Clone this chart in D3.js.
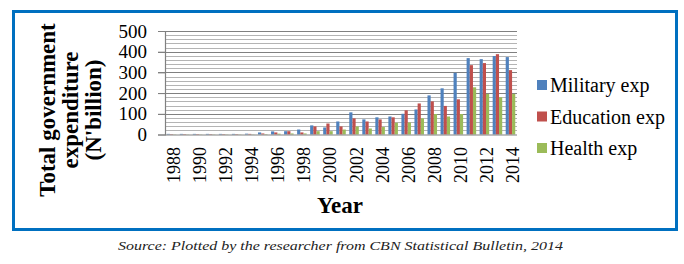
<!DOCTYPE html>
<html>
<head>
<meta charset="utf-8">
<script src="https://cdn.jsdelivr.net/npm/d3@7"></script>
<style>
  body { margin: 0; background: #fff; }
  svg text { font-family: "Liberation Serif", "Times New Roman", "DejaVu Serif", serif; }
</style>
</head>
<body>
<div id="chart"></div>
<script>
// Years and the three expenditure series (N'billion)
const years = d3.range(1988, 2015).map(String);
const military = [3, 3, 3, 3, 3, 3, 4, 10, 15, 16, 24, 44, 34, 63, 107, 73, 83, 87, 100, 121, 189, 223, 298, 369, 364, 379, 374];
const education = [2, 2, 2, 2, 2, 2, 3, 5, 10, 16, 10, 39, 53, 39, 78, 63, 73, 83, 117, 150, 160, 138, 170, 335, 345, 388, 311];
const health = [1, 1, 1, 1, 1, 1, 1, 2, 4, 5, 5, 16, 16, 24, 39, 29, 36, 57, 58, 78, 99, 87, 99, 228, 196, 180, 196];
const seriesNames = ["Military exp", "Education exp", "Health exp"];
const seriesColors = ["#4F81BD", "#C0504D", "#9BBB59"];
const yTicks = [0, 100, 200, 300, 400, 500];

const series = [military, education, health];
const serif = "'Liberation Serif', 'Times New Roman', 'DejaVu Serif', serif";

const outerWidth = 684;
const outerHeight = 264;

// plot area
const margin = { top: 31, left: 165, right: 167, bottom: 129.5 };
const width = outerWidth - margin.left - margin.right;
const height = outerHeight - margin.top - margin.bottom;

const svg = d3.select("#chart")
  .append("svg")
  .attr("width", outerWidth)
  .attr("height", outerHeight)
  .attr("font-family", serif);

// blue frame around the chart
svg.append("rect")
  .attr("x", 13.5)
  .attr("y", 11.5)
  .attr("width", 663)
  .attr("height", 218)
  .attr("fill", "none")
  .attr("stroke", "#0070C0")
  .attr("stroke-width", 3);

const g = svg.append("g")
  .attr("transform", `translate(${margin.left},${margin.top})`);

const x = d3.scaleBand()
  .domain(years)
  .range([0, width]);

const x1 = d3.scaleBand()
  .domain(d3.range(3))
  .range([0, x.bandwidth()])
  .paddingOuter(0.55)
  .paddingInner(0);

const y = d3.scaleLinear()
  .domain([0, 500])
  .range([height, 0]);

// minor grid every 20
g.append("g")
  .selectAll("line")
  .data(d3.range(20, 500, 20).filter(v => v % 100 !== 0))
  .join("line")
  .attr("x1", 0)
  .attr("x2", width)
  .attr("y1", d => Math.round(y(d)) + 0.5)
  .attr("y2", d => Math.round(y(d)) + 0.5)
  .attr("stroke", "#B4B4B4")
  .attr("stroke-width", 1);

// major grid every 100
g.append("g")
  .selectAll("line")
  .data(yTicks.slice(1))
  .join("line")
  .attr("x1", -7)
  .attr("x2", width)
  .attr("y1", d => Math.round(y(d)) + 0.5)
  .attr("y2", d => Math.round(y(d)) + 0.5)
  .attr("stroke", "#808080")
  .attr("stroke-width", 1.2);

// bars
series.forEach((vals, si) => {
  g.append("g")
    .selectAll("rect")
    .data(vals)
    .join("rect")
    .attr("x", (d, i) => x(years[i]) + x1(si))
    .attr("y", d => y(d))
    .attr("width", x1.bandwidth())
    .attr("height", d => height - y(d))
    .attr("fill", seriesColors[si]);
});

// left axis
const yAxis = g.append("g")
  .call(d3.axisLeft(y).tickValues(yTicks).tickSize(7).tickPadding(11))
  .attr("font-family", serif);
yAxis.select(".domain").attr("stroke", "#808080").attr("stroke-width", 1.2);
yAxis.selectAll(".tick line").attr("stroke", "#808080");
yAxis.selectAll("text")
  .attr("font-size", 19)
  .attr("fill", "#000");

// bottom axis line
g.append("line")
  .attr("x1", 0)
  .attr("x2", width)
  .attr("y1", height + 0.5)
  .attr("y2", height + 0.5)
  .attr("stroke", "#808080")
  .attr("stroke-width", 1.2);

// year labels, every other year, rotated
g.append("g")
  .selectAll("text")
  .data(years.filter((d, i) => i % 2 === 0))
  .join("text")
  .attr("transform", d => `translate(${x(d) + x.bandwidth() / 2 + 8.5},${height + 12.5}) rotate(-90)`)
  .attr("text-anchor", "end")
  .attr("font-size", 18)
  .attr("fill", "#000")
  .text(d => d);

// axis titles
svg.append("text")
  .attr("x", 340)
  .attr("y", 213)
  .attr("text-anchor", "middle")
  .attr("font-size", 23)
  .attr("font-weight", "bold")
  .text("Year");

const yTitle = svg.append("text")
  .attr("transform", "translate(55,110) rotate(-90)")
  .attr("text-anchor", "middle")
  .attr("font-size", 23)
  .attr("font-weight", "bold");
["Total government", "expenditure", "(N'billion)"].forEach((t, i) => {
  yTitle.append("tspan")
    .attr("x", 0)
    .attr("dy", i === 0 ? 0 : 23)
    .text(t);
});

// legend
const legend = svg.append("g")
  .attr("transform", "translate(537,85)");
seriesNames.forEach((name, i) => {
  const row = legend.append("g")
    .attr("transform", `translate(0,${i * 31.5})`);
  row.append("rect")
    .attr("x", 0)
    .attr("y", -5)
    .attr("width", 10)
    .attr("height", 10)
    .attr("fill", seriesColors[i]);
  row.append("text")
    .attr("x", 13)
    .attr("y", 7)
    .attr("font-size", 20)
    .text(name);
});

// source note below the frame
svg.append("text")
  .attr("x", 118)
  .attr("y", 250)
  .attr("font-size", 13)
  .attr("font-style", "italic")
  .attr("fill", "#222")
  .attr("textLength", 445)
  .attr("lengthAdjust", "spacingAndGlyphs")
  .text("Source: Plotted by the researcher from CBN Statistical Bulletin, 2014");
</script>
</body>
</html>
